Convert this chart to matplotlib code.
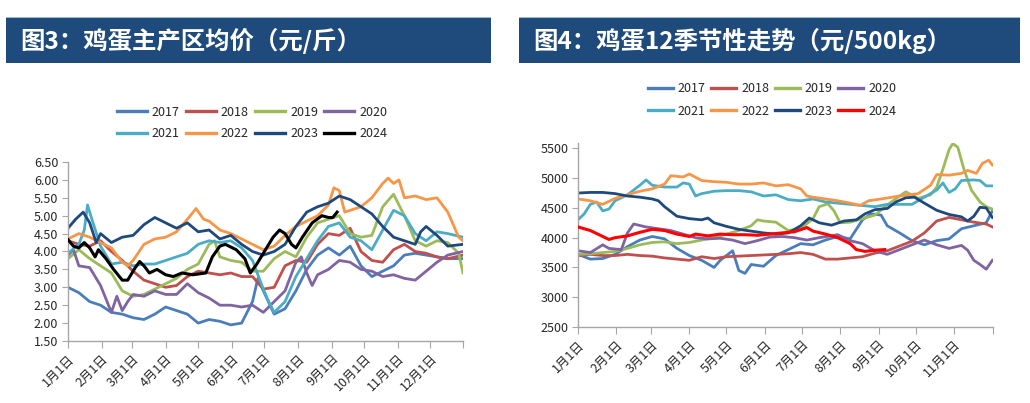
import matplotlib
matplotlib.use("Agg")
import matplotlib.pyplot as plt
from matplotlib.patches import Rectangle

plt.rcParams['font.family'] = ['Noto Sans CJK SC', 'DejaVu Sans']

# ---- 图3: 鸡蛋主产区均价 (元/斤), x = day of year ----
p3_d2017 = [0, 10, 20, 30, 40, 50, 60, 70, 80, 90, 100, 110, 120, 130, 140, 150, 160, 170, 175, 180, 190,
            200, 210, 220, 230, 240, 250, 260, 270, 280, 290, 300, 310, 320, 330, 340, 350, 364]
p3_v2017 = [3.0, 2.85, 2.6, 2.5, 2.3, 2.25, 2.15, 2.1, 2.25, 2.45, 2.35, 2.25, 2.0, 2.1, 2.05, 1.95, 2.0, 2.6, 3.25,
            2.9, 2.25, 2.4, 2.9, 3.5, 3.9, 4.1, 3.9, 4.15, 3.6, 3.3, 3.45, 3.6, 3.9, 3.95, 3.9, 3.85, 3.8, 3.8]

p3_d2018 = [0, 10, 20, 30, 40, 50, 60, 70, 80, 90, 100, 110, 120, 130, 140, 150, 160, 170, 180, 190, 200,
            210, 220, 230, 240, 250, 260, 270, 280, 290, 300, 310, 320, 330, 340, 350, 364]
p3_v2018 = [4.3, 4.2, 4.15, 4.3, 4.0, 3.75, 3.45, 3.2, 3.1, 3.0, 3.05, 3.3, 3.45, 3.4, 3.35, 3.4, 3.3, 3.3, 2.95,
            3.0, 3.6, 3.75, 3.7, 4.2, 4.5, 4.45, 4.65, 4.0, 3.75, 3.7, 4.05, 4.2, 4.0, 3.95, 3.85, 3.8, 3.9]

p3_d2019 = [0, 10, 20, 30, 40, 50, 60, 70, 80, 90, 100, 110, 120, 130, 135, 140, 150, 160, 170, 180, 190,
            200, 210, 220, 230, 240, 250, 260, 270, 280, 290, 300, 310, 320, 330, 340, 350, 360, 364]
p3_v2019 = [3.8, 4.05, 3.8, 3.6, 3.4, 2.9, 2.75, 2.8, 2.95, 3.1, 3.25, 3.5, 3.65, 4.2, 4.3, 3.85, 3.75, 3.7, 3.45,
            3.45, 3.8, 4.0, 3.85, 4.4, 4.8, 4.9, 5.0, 4.5, 4.4, 4.45, 5.25, 5.6, 5.0, 4.3, 4.15, 4.3, 4.25, 3.95, 3.4]

p3_d2020 = [0, 5, 10, 20, 30, 40, 45, 50, 55, 60, 70, 80, 90, 100, 110, 120, 130, 140, 150, 160, 170, 180,
            190, 200, 210, 215, 220, 225, 230, 240, 250, 260, 270, 280, 290, 300, 310, 320, 330, 340, 350, 364]
p3_v2020 = [3.9, 4.05, 3.6, 3.55, 3.05, 2.3, 2.75, 2.35, 2.6, 2.8, 2.75, 2.9, 2.8, 2.8, 3.1, 2.85, 2.7, 2.5, 2.5,
            2.45, 2.5, 2.3, 2.6, 2.9, 3.7, 3.85, 3.4, 3.05, 3.35, 3.5, 3.75, 3.7, 3.5, 3.45, 3.3, 3.35, 3.25, 3.2,
            3.45, 3.7, 3.9, 4.0]

p3_d2021 = [0, 10, 15, 18, 22, 30, 40, 50, 60, 70, 80, 90, 100, 110, 120, 130, 140, 150, 160, 170, 175, 180,
            185, 190, 200, 210, 220, 230, 240, 250, 260, 270, 280, 290, 300, 310, 320, 330, 340, 350, 364]
p3_v2021 = [3.95, 4.2, 4.6, 5.3, 4.9, 4.15, 3.65, 3.7, 3.6, 3.65, 3.65, 3.75, 3.85, 3.95, 4.2, 4.3, 4.25, 4.3,
            4.1, 3.75, 3.35, 2.95, 2.6, 2.3, 2.6, 3.3, 3.8, 4.3, 4.7, 4.8, 4.4, 4.3, 4.05, 4.6, 5.15, 5.0, 4.5,
            4.3, 4.55, 4.5, 4.4]

p3_d2022 = [0, 10, 20, 30, 40, 50, 55, 60, 70, 80, 90, 100, 110, 118, 125, 130, 140, 150, 160, 170, 180, 190,
            200, 210, 220, 230, 240, 245, 250, 255, 260, 270, 280, 290, 295, 300, 305, 310, 320, 330, 340, 350,
            360, 364]
p3_v2022 = [4.35, 4.5, 4.4, 4.25, 4.1, 3.7, 3.6, 3.75, 4.2, 4.35, 4.4, 4.55, 4.9, 5.2, 4.9, 4.85, 4.6, 4.5, 4.35,
            4.2, 4.05, 4.15, 4.45, 4.7, 4.85, 5.0, 5.3, 5.78, 5.7, 5.1, 5.15, 5.25, 5.5, 5.9, 6.05, 5.9, 6.0, 5.5,
            5.55, 5.45, 5.5, 5.1, 4.4, 4.3]

p3_d2023 = [0, 7, 14, 20, 26, 30, 40, 50, 60, 70, 80, 90, 100, 110, 120, 130, 140, 150, 160, 170, 180, 190,
            200, 210, 220, 230, 240, 250, 260, 270, 280, 290, 300, 310, 320, 325, 330, 340, 350, 364]
p3_v2023 = [4.65, 4.9, 5.1, 4.8, 4.25, 4.5, 4.25, 4.4, 4.45, 4.75, 4.95, 4.8, 4.65, 4.8, 4.55, 4.6, 4.35, 4.45,
            4.2, 4.0, 3.9, 4.0, 4.2, 4.7, 5.1, 5.25, 5.35, 5.55, 5.45, 5.25, 5.05, 4.7, 4.4, 4.3, 4.2, 4.55, 4.7,
            4.45, 4.15, 4.2]

p3_d2024 = [0, 5, 10, 15, 20, 25, 28, 35, 42, 50, 55, 62, 66, 70, 75, 82, 90, 97, 105, 115, 127, 133, 140, 145,
            155, 163, 168, 174, 180, 189, 195, 200, 206, 210, 216, 225, 234, 240, 244, 248]
p3_v2024 = [4.33, 4.15, 4.1, 4.25, 4.1, 3.85, 4.05, 3.8, 3.5, 3.2, 3.2, 3.55, 3.72, 3.6, 3.4, 3.5, 3.35, 3.3,
            3.4, 3.35, 3.4, 3.85, 4.15, 4.2, 4.05, 3.8, 3.4, 3.65, 3.95, 4.4, 4.6, 4.5, 4.2, 4.1, 4.4, 4.8, 5.0,
            4.95, 4.95, 5.1]

# ---- 图4: 鸡蛋12季节性走势 (元/500kg) ----
p4_d2017 = [0, 10, 20, 30, 40, 50, 60, 70, 80, 90, 100, 110, 115, 120, 125, 130, 135, 140, 150, 160, 170, 180,
            190, 200, 210, 220, 230, 237, 245, 250, 260, 270, 280, 290, 300, 310, 320, 330, 335]
p4_v2017 = [3720, 3640, 3650, 3720, 3850, 3960, 4020, 3980, 3820, 3700, 3620, 3500, 3620, 3700, 3780, 3450,
            3400, 3550, 3520, 3700, 3800, 3900, 3880, 3960, 4020, 3980, 4300, 4400, 4380, 4200, 4080, 3950, 3880,
            3950, 3980, 4150, 4200, 4250, 4450]

p4_d2018 = [0, 10, 20, 30, 40, 50, 60, 70, 80, 90, 100, 110, 120, 130, 140, 150, 160, 170, 180, 190, 200, 210,
            220, 230, 240, 250, 260, 270, 280, 290, 300, 310, 320, 330, 335]
p4_v2018 = [3700, 3720, 3700, 3700, 3720, 3700, 3690, 3660, 3640, 3620, 3680, 3650, 3680, 3690, 3700, 3710,
            3720, 3730, 3750, 3720, 3640, 3640, 3660, 3680, 3740, 3780, 3860, 3940, 4080, 4280, 4340, 4300, 4260,
            4230, 4180]

p4_d2019 = [0, 10, 20, 30, 40, 50, 60, 70, 80, 90, 100, 110, 120, 130, 140, 145, 150, 160, 170, 180, 190, 195,
            202, 207, 212, 220, 230, 240, 250, 260, 265, 275, 285, 290, 295, 300, 303, 307, 312, 318, 325, 330,
            335]
p4_v2019 = [3720, 3730, 3750, 3770, 3820, 3880, 3920, 3930, 3900, 3920, 3960, 4000, 4060, 4120, 4200, 4300,
            4280, 4260, 4120, 4150, 4320, 4520, 4570, 4450, 4250, 4260, 4320, 4380, 4550, 4700, 4770, 4660, 4720,
            4850, 5150, 5480, 5580, 5520, 5150, 4800, 4600, 4520, 4480]

p4_d2020 = [0, 10, 20, 25, 35, 40, 45, 55, 65, 75, 85, 95, 105, 115, 125, 135, 145, 155, 165, 175, 185, 195,
            210, 220, 230, 240, 250, 260, 270, 280, 290, 300, 310, 315, 320, 325, 330, 335]
p4_v2020 = [3780, 3750, 3880, 3820, 3800, 4080, 4230, 4180, 4150, 4120, 4060, 4000, 3980, 3990, 3960, 3900,
            3950, 4010, 4020, 4000, 3960, 4000, 4050, 3950, 3900, 3780, 3720, 3800, 3880, 3960, 3880, 3820, 3870,
            3790, 3620, 3550, 3470, 3620]

p4_d2021 = [0, 5, 10, 15, 20, 25, 30, 40, 45, 50, 55, 60, 70, 80, 85, 90, 95, 100, 110, 120, 130, 140, 150,
            160, 170, 180, 190, 200, 210, 220, 230, 240, 250, 260, 270, 280, 290, 295, 300, 305, 310, 320, 325,
            330, 335]
p4_v2021 = [4300, 4400, 4560, 4600, 4450, 4480, 4620, 4720, 4800, 4880, 4970, 4880, 4850, 4850, 4920, 4900,
            4700, 4740, 4780, 4790, 4790, 4770, 4700, 4720, 4640, 4620, 4650, 4600, 4580, 4560, 4540, 4520, 4560,
            4560, 4560, 4680, 4800, 4920, 4760, 4820, 4960, 4970, 4960, 4870, 4870]

p4_d2022 = [0, 10, 20, 30, 40, 50, 60, 70, 75, 85, 90, 100, 110, 120, 130, 140, 150, 160, 170, 180, 185, 190,
            200, 210, 220, 228, 235, 245, 260, 275, 285, 290, 300, 310, 315, 322, 327, 332, 335]
p4_v2022 = [4650, 4620, 4560, 4660, 4720, 4780, 4820, 4900, 5040, 5020, 5070, 4960, 4940, 4930, 4900, 4900,
            4920, 4870, 4890, 4820, 4700, 4680, 4650, 4620, 4580, 4540, 4620, 4650, 4700, 4740, 4880, 5060, 5050,
            5080, 5130, 5080, 5250, 5300, 5220]

p4_d2023 = [0, 10, 20, 30, 40, 50, 60, 65, 70, 75, 80, 90, 100, 105, 110, 120, 130, 140, 150, 160, 170, 180,
            187, 195, 205, 215, 225, 232, 240, 250, 257, 265, 272, 280, 290, 300, 310, 315, 320, 325, 330, 335]
p4_v2023 = [4750, 4760, 4760, 4740, 4700, 4680, 4650, 4620, 4520, 4440, 4360, 4320, 4300, 4330, 4250, 4190,
            4140, 4110, 4080, 4060, 4080, 4200, 4330, 4250, 4210, 4280, 4300, 4400, 4470, 4490, 4600, 4670, 4680,
            4580, 4460, 4390, 4350, 4280, 4360, 4510, 4500, 4340]

p4_d2024 = [0, 10, 20, 25, 30, 40, 50, 60, 70, 80, 90, 95, 105, 115, 125, 135, 145, 155, 165, 175, 185, 190,
            200, 210, 220, 225, 232, 240, 248]
p4_v2024 = [4180, 4120, 4020, 3970, 4000, 4030, 4090, 4140, 4120, 4060, 4020, 4060, 4030, 4060, 4050, 4050,
            4040, 4060, 4080, 4100, 4170, 4110, 4060, 4000, 3900, 3800, 3770, 3790, 3800]

years = ['2017', '2018', '2019', '2020', '2021', '2022', '2023', '2024']
colors3 = ['#4A7EBB', '#C0504D', '#9BBB59', '#8064A2', '#4BACC6', '#F79646', '#1F497D', '#000000']
colors4 = ['#4A7EBB', '#C0504D', '#9BBB59', '#8064A2', '#4BACC6', '#F79646', '#1F497D', '#FF0000']

month_days = [0, 31, 59, 90, 120, 151, 181, 212, 243, 273, 304, 334]
month_labels = ['%d月1日' % (i + 1) for i in range(12)]

series3 = [(p3_d2017, p3_v2017), (p3_d2018, p3_v2018), (p3_d2019, p3_v2019), (p3_d2020, p3_v2020),
           (p3_d2021, p3_v2021), (p3_d2022, p3_v2022), (p3_d2023, p3_v2023), (p3_d2024, p3_v2024)]
series4 = [(p4_d2017, p4_v2017), (p4_d2018, p4_v2018), (p4_d2019, p4_v2019), (p4_d2020, p4_v2020),
           (p4_d2021, p4_v2021), (p4_d2022, p4_v2022), (p4_d2023, p4_v2023), (p4_d2024, p4_v2024)]

W, H = 1030, 403
fig = plt.figure(figsize=(W / 100, H / 100), dpi=100)
banner_color = '#1F4A7C'
axis_color = '#A6A6A6'
text_color = '#262626'


def banner(x0, x1, title):
    fig.patches.append(Rectangle((x0 / W, 1 - 63 / H), (x1 - x0) / W, 46 / H, transform=fig.transFigure,
                                 facecolor=banner_color, edgecolor='none'))
    fig.patches.append(Rectangle((x0 / W, 1 - 18 / H), (x1 - x0) / W, 1.2 / H, transform=fig.transFigure,
                                 facecolor='#9DB9D8', edgecolor='none'))
    fig.text((x0 + 14) / W, 1 - 41 / H, title, color='white', fontsize=17.6, fontweight='bold',
             va='center', ha='left')


def style_axis(ax, xmax, tick_days, tick_labels):
    for side in ('top', 'right'):
        ax.spines[side].set_visible(False)
    for side in ('left', 'bottom'):
        ax.spines[side].set_color(axis_color)
        ax.spines[side].set_linewidth(1.0)
    ax.set_xlim(0, xmax)
    ax.set_xticks(tick_days)
    ax.set_xticklabels(tick_labels, rotation=45, ha='right', rotation_mode='anchor')
    ax.tick_params(axis='x', length=5, color=axis_color, labelsize=9, labelcolor=text_color, pad=3)
    ax.tick_params(axis='y', length=4, color=axis_color, labelsize=9, labelcolor=text_color, pad=3)


def add_legend(handles, center, hlen, cspace, lspace):
    # legend is filled column by column, so put the handles in row order
    order = [0, 4, 1, 5, 2, 6, 3, 7]
    leg = fig.legend(handles=[handles[i] for i in order], loc='center', bbox_to_anchor=center, ncol=4,
                     frameon=False, fontsize=9, handlelength=hlen, handletextpad=0.4,
                     columnspacing=cspace, labelspacing=lspace, borderpad=0)
    for line in leg.get_lines():
        line.set_linewidth(2.4)
    for t in leg.get_texts():
        t.set_color(text_color)


# left chart
banner(6, 491, '图3：鸡蛋主产区均价（元/斤）')
ax1 = fig.add_axes([68 / W, 1 - 341 / H, (463 - 68) / W, (341 - 162) / H])
handles = []
for (d, v), c, y in zip(series3, colors3, years):
    h, = ax1.plot(d, v, color=c, lw=2.2 if y == '2024' else 2.0, label=y, zorder=3 if y == '2024' else 2)
    handles.append(h)
ax1.set_ylim(1.5, 6.5)
ax1.set_yticks([1.5 + 0.5 * i for i in range(11)])
ax1.set_yticklabels(['%.2f' % (1.5 + 0.5 * i) for i in range(11)])
style_axis(ax1, 364, month_days + [364], month_labels + [''])
add_legend(handles, (252 / W, 1 - 123 / H), 2.4, 0.5, 0.7)

# right chart
banner(519, 1020, '图4：鸡蛋12季节性走势（元/500kg）')
ax2 = fig.add_axes([578 / W, 1 - 327 / H, (993 - 578) / W, (327 - 143) / H])
handles = []
for (d, v), c, y in zip(series4, colors4, years):
    h, = ax2.plot(d, v, color=c, lw=2.2 if y == '2024' else 2.0, label=y, zorder=3 if y == '2024' else 2)
    handles.append(h)
ax2.set_ylim(2500, 5590)
ax2.set_yticks([2500, 3000, 3500, 4000, 4500, 5000, 5500])
style_axis(ax2, 335.5, month_days[:11] + [335.5], month_labels[:11] + [''])
add_legend(handles, (772 / W, 1 - 100 / H), 2.0, 0.45, 0.75)

fig.savefig('out.png', dpi=100, facecolor='white')
